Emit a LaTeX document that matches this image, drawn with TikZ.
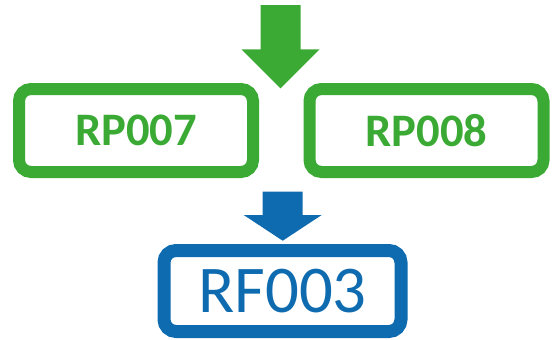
\documentclass[tikz,border=0pt]{standalone}
\usepackage{fontspec}
\setmainfont{Carlito}
\usetikzlibrary{positioning}
\definecolor{rgreen}{RGB}{58,170,53}
\definecolor{rblue}{RGB}{14,107,176}

\begin{document}
\begin{tikzpicture}[x=1pt,y=-1pt]
\tikzset{
    gbox/.style={draw=rgreen, line width=12pt, rounded corners=12pt, minimum width=234pt, minimum height=83pt, inner sep=0pt, text=rgreen, font=\fontsize{46.6}{50}\selectfont\bfseries},
    bbox/.style={draw=rblue, line width=13pt, rounded corners=12pt, minimum width=237pt, minimum height=81pt, inner sep=0pt, text=rblue, font=\fontsize{66.8}{70}\selectfont},
    garrow/.style={fill=rgreen},
    barrow/.style={fill=rblue}
}
\useasboundingbox (0,0) rectangle (552,340);

% --- nodes ---
\node[gbox] (rp7) at (136,130.5) {\raisebox{-2.5pt}{RP007}};
\node[gbox] (rp8) at (426.5,130.5) {\raisebox{-2.5pt}{RP008}};
\node[bbox] (rf3) at (282.5,291) {RF003};

% --- arrow tips ---
\coordinate (gtip) at (280.5,88.3);
\coordinate (btip) at (282.7,240.7);

% --- arrows ---
\fill[garrow] (gtip) -- ++(-39,-39) -- ++(19,0) -- ++(0,-44.3) -- ++(40,0)
    -- ++(0,44.3) -- ++(19,0) -- cycle;
\fill[barrow] (btip) -- ++(-39,-25.7) -- ++(19,0) -- ++(0,-23.3) -- ++(40,0)
    -- ++(0,23.3) -- ++(19,0) -- cycle;
\end{tikzpicture}
\end{document}
